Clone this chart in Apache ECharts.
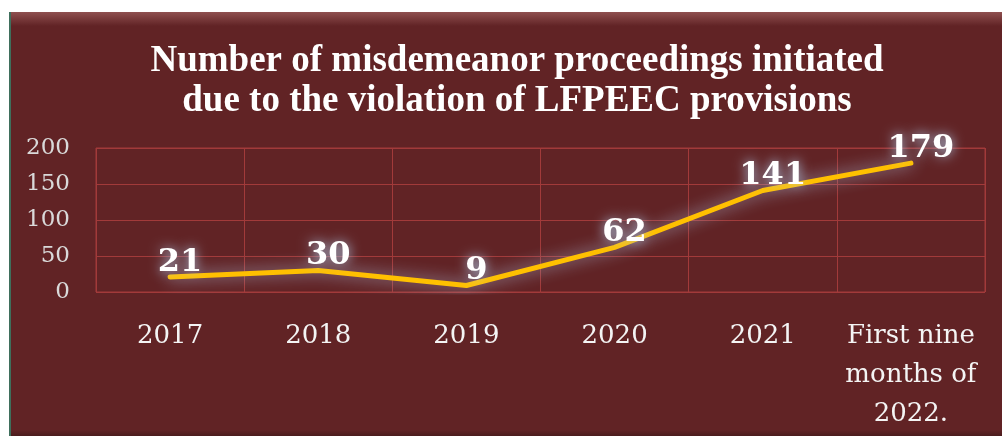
<!DOCTYPE html>
<html><head><meta charset="utf-8">
<script src="https://cdn.jsdelivr.net/npm/echarts@6/dist/echarts.min.js"></script>
<style>html,body{margin:0;padding:0;background:#fff;}#c{width:1002px;height:436px;}</style>
</head><body><div id="c"></div>
<script>
var categories = ['2017', '2018', '2019', '2020', '2021', 'First nine\nmonths of\n2022.'];
var values = [21, 30, 9, 62, 141, 179];
var titleText = 'Number of misdemeanor proceedings initiated\ndue to the violation of LFPEEC provisions';

var chart = echarts.init(document.getElementById('c'));
chart.setOption({
  backgroundColor: '#ffffff',
  animation: false,
  graphic: [
    {type: 'rect', shape: {x: 9, y: 12, width: 993, height: 424}, style: {fill: '#612325'}, z: -10},
    {type: 'rect', shape: {x: 9, y: 12, width: 993, height: 14}, style: {fill: new echarts.graphic.LinearGradient(0,0,0,1,[{offset:0,color:'#8f5050'},{offset:1,color:'#612325'}])}, z: -9},
    {type: 'rect', shape: {x: 9, y: 12, width: 2, height: 424}, style: {fill: '#3f6f5c'}, z: -8},
    {type: 'rect', shape: {x: 11, y: 430, width: 991, height: 6}, style: {fill: new echarts.graphic.LinearGradient(0,0,0,1,[{offset:0,color:'#612325'},{offset:1,color:'#4a1c1d'}])}, z: -9}
  ],
  title: {
    text: titleText,
    left: 512, top: 36, textAlign: 'center',
    textStyle: {color: '#ffffff', fontFamily: 'Liberation Serif', fontWeight: 'bold', fontSize: 37, lineHeight: 40}
  },
  grid: {left: 96, right: 17, top: 148, bottom: 144, show: true, borderColor: '#a23a3a', borderWidth: 1, outerBoundsMode: 'none', containLabel: false},
  xAxis: {
    type: 'category', data: categories, boundaryGap: true,
    axisLine: {show: false}, axisTick: {show: false},
    splitLine: {show: true, lineStyle: {color: '#a23a3a', width: 1}},
    axisLabel: {color: '#f4f4f4', fontFamily: 'DejaVu Serif', fontSize: 26, margin: 25, lineHeight: 39, interval: 0}
  },
  yAxis: {
    type: 'value', min: 0, max: 200, interval: 50,
    axisLine: {show: false}, axisTick: {show: false},
    splitLine: {show: true, lineStyle: {color: '#a23a3a', width: 1}},
    axisLabel: {color: '#d9d9d9', fontFamily: 'DejaVu Serif', fontSize: 23, margin: 26}
  },
  series: [{
    type: 'line', data: values, smooth: false,
    symbol: 'circle', symbolSize: 1, showSymbol: true,
    itemStyle: {color: '#FFC000'},
    lineStyle: {color: '#FFC000', width: 5, cap: 'round', join: 'round', shadowColor: 'rgba(180,205,235,0.8)', shadowBlur: 16},
    label: {
      show: true, position: 'top', distance: 0, offset: [10, 2],
      color: '#ffffff', fontFamily: 'DejaVu Serif', fontWeight: 'bold', fontSize: 32,
      textShadowColor: 'rgba(170,200,230,1)', textShadowBlur: 12
    }
  }]
});
</script></body></html>
